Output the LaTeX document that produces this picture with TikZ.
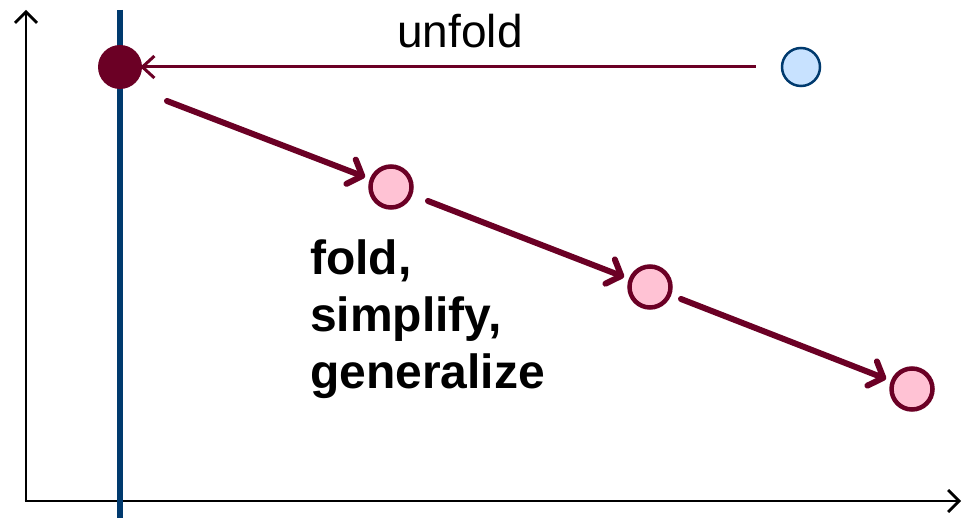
\documentclass[tikz,border=0pt]{standalone}
\usepackage{fontspec}
\setmainfont{Liberation Sans}
\usetikzlibrary{arrows.meta}
\definecolor{dred}{HTML}{6B0025}
\definecolor{dblue}{HTML}{003A6E}
\definecolor{pinkf}{HTML}{FFC2D4}
\definecolor{lblue}{HTML}{C8E2FF}
\begin{document}
\begin{tikzpicture}[x=1pt,y=-1pt,
  axis/.style={black,line width=2.8pt,-{Straight Barb[length=11pt,width=22pt,line width=2.8pt]}},
  pinknode/.style={circle,draw=dred,fill=pinkf,line width=4.5pt,minimum size=41pt,inner sep=0pt},
  thickarr/.style={dred,line width=6pt,line cap=round,shorten >=5pt,-{Straight Barb[length=12pt,width=26pt,line width=6pt,round]}},
  thinarr/.style={dred,line width=3pt,-{Straight Barb[length=12pt,width=22pt,line width=3pt]}}]
\useasboundingbox (0,0) rectangle (965,518);
% axes
\coordinate (o) at (26,501);
\coordinate (ytop) at (26,10);
\coordinate (xend) at (961,501);
\draw[axis] (o) -- (ytop);
\draw[axis] ([xshift=-1.4pt]o) -- (xend);
% blue vertical line
\coordinate (bt) at (120,10);
\coordinate (bb) at (120,518);
\draw[dblue,line width=6pt] (bt) -- (bb);
% nodes
\node[circle,fill=dred,minimum size=44pt,inner sep=0pt] (s) at (120,67) {};
\node[circle,draw=dblue,fill=lblue,line width=2.5pt,minimum size=38pt,inner sep=0pt] (u) at (801,67) {};
\node[pinknode] (p1) at (391,187) {};
\node[pinknode] (p2) at (650,287) {};
\node[pinknode] (p3) at (912,389) {};
% arrows
\draw[thinarr] (u.west) ++(-25pt,0) coordinate (ua) -- ([xshift=-2pt]s.east);
\coordinate (a1) at (167,101);
\draw[thickarr] (a1) -- (p1);
\draw[thickarr] (428,201) coordinate (a2) -- (p2);
\draw[thickarr] (681,299) coordinate (a3) -- (p3);
% labels
\node[font=\fontsize{46}{50}\selectfont,anchor=base] (ul) at (460,48) {unfold};
\node[font=\fontsize{48}{57}\selectfont\bfseries,align=left,anchor=north west,inner sep=0pt] (fl) at (310,240) {fold,\\simplify,\\generalize};
\end{tikzpicture}
\end{document}
